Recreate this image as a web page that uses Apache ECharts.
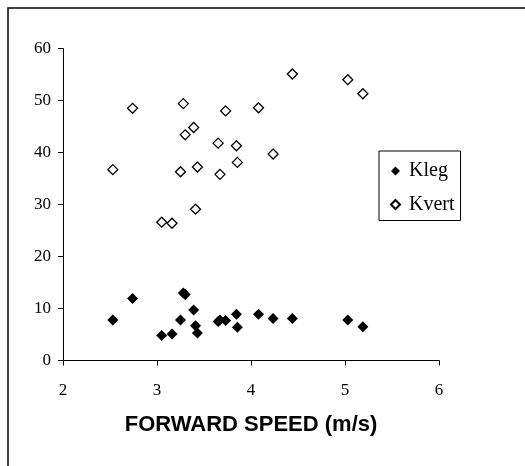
<!DOCTYPE html>
<html>
<head>
<meta charset="utf-8">
<script src="https://cdn.jsdelivr.net/npm/echarts@6/dist/echarts.min.js"></script>
<style>
  html, body { margin: 0; padding: 0; background: #fff; }
  #chart { width: 525px; height: 466px; }
</style>
</head>
<body>
<div id="chart"></div>
<script>
// forward speed (m/s), one value per trial
const speed = [2.53, 2.74, 3.05, 3.16, 3.25, 3.28, 3.30, 3.39, 3.41, 3.43,
  3.65, 3.67, 3.73, 3.845, 3.855, 4.08, 4.235, 4.44, 5.03, 5.19]
const kleg = [7.8, 11.9, 4.8, 5.1, 7.8, 13.0, 12.7, 9.7, 6.7, 5.3,
  7.5, 7.8, 7.7, 8.9, 6.4, 8.9, 8.1, 8.1, 7.8, 6.5]
const kvert = [36.7, 48.5, 26.6, 26.4, 36.3, 49.4, 43.4, 44.8, 29.1, 37.2,
  41.8, 35.8, 48.0, 41.3, 38.1, 48.6, 39.7, 55.1, 54.0, 51.3]
const seriesNames = ['Kleg', 'Kvert']
const xTitle = 'FORWARD SPEED (m/s)'

const serif = '"Liberation Serif", "DejaVu Serif", serif'
const sans = '"Liberation Sans", Arial, sans-serif'

const chart = echarts.init(document.getElementById('chart'))

function pairs(ys) {
  return speed.map((x, i) => [x, ys[i]])
}

chart.setOption({
  animation: false,
  backgroundColor: '#fff',
  graphic: [{
    type: 'rect',
    shape: { x: 8, y: 8, width: 1000, height: 1000 },
    style: { fill: 'none', stroke: '#000', lineWidth: 1.5 },
    silent: true
  }],
  grid: {
    left: 63,
    right: 86,
    top: 48.5,
    bottom: 105.5,
    containLabel: false
  },
  legend: {
    orient: 'vertical',
    left: 379,
    top: 151,
    data: seriesNames,
    itemWidth: 9,
    itemHeight: 9,
    itemGap: 13.5,
    padding: [10, 6, 6, 11],
    borderColor: '#000',
    borderWidth: 1,
    textStyle: {
      fontFamily: serif,
      fontSize: 20,
      color: '#000',
      padding: [0, 0, 0, 4]
    }
  },
  xAxis: {
    type: 'value',
    min: 2,
    max: 6,
    interval: 1,
    name: xTitle,
    nameLocation: 'middle',
    nameGap: 53,
    nameTextStyle: {
      fontFamily: sans,
      fontSize: 22,
      fontWeight: 'bold',
      color: '#000'
    },
    axisLine: { show: true, onZero: false, lineStyle: { color: '#000', width: 1 } },
    axisTick: { show: true, inside: false, length: 5, lineStyle: { color: '#000' } },
    axisLabel: { margin: 22, fontFamily: serif, fontSize: 17, color: '#000' },
    splitLine: { show: false }
  },
  yAxis: {
    type: 'value',
    min: 0,
    max: 60,
    interval: 10,
    axisLine: { show: true, lineStyle: { color: '#000', width: 1 } },
    axisTick: { show: true, inside: false, length: 5, lineStyle: { color: '#000' } },
    axisLabel: { margin: 12, fontFamily: serif, fontSize: 17, color: '#000' },
    splitLine: { show: false }
  },
  series: [
    {
      name: seriesNames[0],
      type: 'scatter',
      symbol: 'diamond',
      symbolSize: 11,
      itemStyle: { color: '#000', opacity: 1 },
      data: pairs(kleg)
    },
    {
      name: seriesNames[1],
      type: 'scatter',
      symbol: 'diamond',
      symbolSize: 10,
      itemStyle: { color: '#fff', borderColor: '#000', borderWidth: 1.3, opacity: 1 },
      data: pairs(kvert)
    }
  ]
})
</script>
</body>
</html>
